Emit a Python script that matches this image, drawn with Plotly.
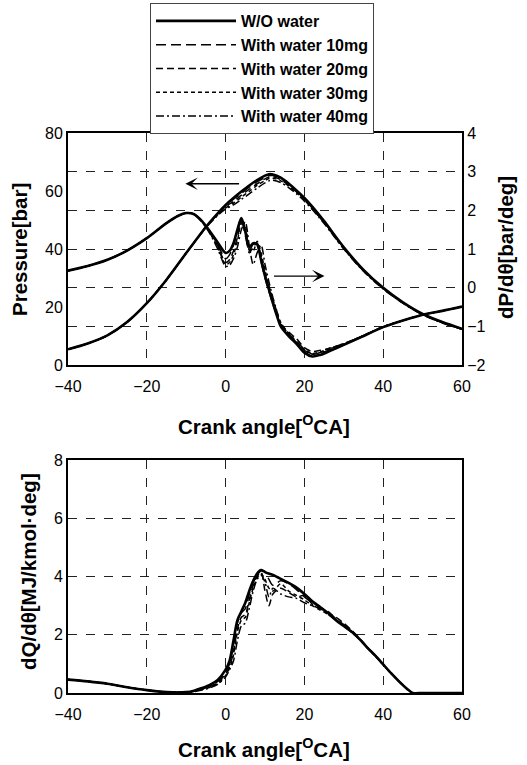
import plotly.graph_objects as go

# ---------------- data ----------------
names = ["W/O water", "With water 10mg", "With water 20mg", "With water 30mg", "With water 40mg"]

# Pressure [bar] vs crank angle
p_x = [-40, -35, -30, -25, -20, -15, -10, -5, -2, 0, 2, 4, 6, 8, 10, 11, 12, 14, 16, 18,
       20, 22, 25, 30, 35, 40, 45, 50, 55, 60]
p_wo = [5.4, 7.4, 10.2, 14.8, 21.3, 29.4, 38.6, 47.6, 52.3, 55.2, 57.6, 59.8, 61.9, 63.8, 65.3, 65.8, 65.7, 64.6, 62.6, 60.2,
        57.6, 54.6, 49.6, 40.6, 32.8, 26.6, 21.6, 17.6, 14.8, 12.5]
p_10 = [5.4, 7.4, 10.2, 14.8, 21.3, 29.4, 38.6, 47.6, 52.2, 55.0, 57.2, 59.2, 61.3, 63.2, 64.7, 65.3, 65.3, 64.3, 62.4, 60.0,
        57.4, 54.4, 49.4, 40.4, 32.6, 26.5, 21.5, 17.5, 14.7, 12.4]
p_20 = [5.4, 7.4, 10.2, 14.8, 21.3, 29.4, 38.6, 47.5, 52.0, 54.6, 56.4, 58.6, 60.6, 62.5, 64.2, 64.8, 64.9, 63.9, 62.0, 59.7,
        57.1, 54.1, 49.2, 40.3, 32.5, 26.4, 21.4, 17.4, 14.6, 12.4]
p_30 = [5.4, 7.4, 10.2, 14.8, 21.3, 29.4, 38.6, 47.4, 51.8, 54.2, 55.8, 57.9, 59.9, 61.9, 63.6, 64.3, 64.4, 63.5, 61.7, 59.4,
        56.9, 53.9, 49.0, 40.1, 32.4, 26.3, 21.4, 17.4, 14.6, 12.3]
p_40 = [5.4, 7.4, 10.2, 14.8, 21.3, 29.4, 38.6, 47.3, 51.6, 53.8, 55.2, 57.1, 59.0, 61.0, 62.8, 63.5, 63.7, 62.9, 61.2, 59.0,
        56.5, 53.6, 48.8, 40.0, 32.3, 26.2, 21.3, 17.3, 14.5, 12.3]

# dP/dtheta [bar/deg]
d_x = [-40, -35, -30, -25, -20, -15, -12, -10, -8, -6, -4, -2,
       0, 1, 2, 3, 4, 5, 6, 7, 8, 9, 10, 11, 12, 13, 14,
       16, 18, 20, 22, 24, 26,
       30, 35, 40, 45, 50, 55, 60]
d_wo = [0.44, 0.56, 0.72, 0.96, 1.28, 1.67, 1.86, 1.93, 1.9, 1.72, 1.46, 1.17,
        0.9, 0.95, 1.15, 1.5, 1.8, 1.45, 1.05, 1.15, 1.12, 0.72, 0.3, -0.05, -0.4, -0.72, -1.0,
        -1.25, -1.45, -1.68, -1.78, -1.74, -1.66,
        -1.48, -1.25, -1.02, -0.85, -0.7, -0.6, -0.49]
d_10 = [0.44, 0.56, 0.72, 0.96, 1.28, 1.67, 1.86, 1.93, 1.9, 1.72, 1.45, 1.12,
        0.75, 0.85, 1.1, 1.45, 1.75, 1.35, 0.95, 1.12, 1.1, 0.68, 0.25, -0.1, -0.42, -0.72, -0.98,
        -1.2, -1.38, -1.6, -1.72, -1.7, -1.62,
        -1.46, -1.24, -1.01, -0.85, -0.7, -0.6, -0.49]
d_20 = [0.44, 0.56, 0.72, 0.96, 1.28, 1.67, 1.86, 1.93, 1.9, 1.71, 1.43, 1.08,
        0.65, 0.72, 0.95, 1.3, 1.7, 1.5, 0.9, 1.05, 1.15, 0.8, 0.35, 0.0, -0.35, -0.68, -0.95,
        -1.15, -1.32, -1.55, -1.65, -1.62, -1.58,
        -1.45, -1.24, -1.01, -0.85, -0.7, -0.6, -0.49]
d_30 = [0.44, 0.56, 0.72, 0.96, 1.28, 1.67, 1.86, 1.93, 1.9, 1.7, 1.42, 1.05,
        0.6, 0.65, 0.85, 1.2, 1.65, 1.6, 1.0, 0.95, 1.2, 0.9, 0.45, 0.05, -0.3, -0.62, -0.9,
        -1.18, -1.4, -1.6, -1.7, -1.66, -1.58,
        -1.45, -1.24, -1.01, -0.85, -0.7, -0.6, -0.49]
d_40 = [0.44, 0.56, 0.72, 0.96, 1.28, 1.67, 1.86, 1.93, 1.9, 1.7, 1.4, 1.0,
        0.55, 0.58, 0.75, 1.05, 1.5, 1.7, 1.1, 0.6, 0.9, 1.1, 0.6, 0.15, -0.25, -0.6, -0.92,
        -1.2, -1.42, -1.62, -1.72, -1.68, -1.6,
        -1.46, -1.24, -1.01, -0.85, -0.7, -0.6, -0.49]

# dQ/dtheta [MJ/kmol.deg]
q_x = [-40, -35, -30, -25, -20, -15, -10,
       -8, -6, -4, -2, 0, 1, 2, 3, 4, 5, 6, 7, 8, 9, 10, 11, 12,
       14, 16, 18, 20, 22, 24, 26, 28, 30, 32, 34, 36, 38, 40, 42, 44, 46,
       47.5, 50, 55, 60]
q_wo = [0.46, 0.4, 0.32, 0.2, 0.1, 0.03, 0.03,
        0.08, 0.17, 0.28, 0.45, 0.8, 1.1, 1.8, 2.5, 2.8, 3.1, 3.5, 3.85, 4.1, 4.22, 4.15, 4.1, 4.05,
        3.92, 3.78, 3.62, 3.4, 3.15, 2.95, 2.75, 2.5, 2.3, 2.1, 1.85, 1.55, 1.28, 0.98, 0.68, 0.4, 0.15,
        0.0, 0.0, 0.0, 0.0]
q_10 = [0.46, 0.4, 0.32, 0.2, 0.1, 0.03, 0.03,
        0.07, 0.15, 0.25, 0.4, 0.72, 1.0, 1.6, 2.4, 2.75, 2.9, 3.4, 3.8, 4.05, 4.2, 4.18, 3.9, 3.7,
        3.85, 3.75, 3.55, 3.3, 3.1, 2.95, 2.8, 2.55, 2.35, 2.12, 1.86, 1.56, 1.28, 0.98, 0.68, 0.4, 0.15,
        0.0, 0.0, 0.0, 0.0]
q_20 = [0.46, 0.4, 0.32, 0.2, 0.1, 0.03, 0.03,
        0.06, 0.13, 0.22, 0.36, 0.65, 0.9, 1.4, 2.2, 2.6, 2.7, 3.2, 3.7, 4.0, 4.15, 3.5, 3.0, 3.4,
        3.6, 3.45, 3.3, 3.35, 3.05, 2.9, 2.75, 2.6, 2.4, 2.15, 1.88, 1.57, 1.29, 0.98, 0.68, 0.4, 0.15,
        0.0, 0.0, 0.0, 0.0]
q_30 = [0.46, 0.4, 0.32, 0.2, 0.1, 0.03, 0.03,
        0.06, 0.12, 0.2, 0.33, 0.6, 0.85, 1.3, 2.1, 2.5, 2.6, 3.1, 3.6, 3.95, 4.1, 3.9, 3.6, 3.5,
        3.75, 3.5, 3.35, 3.2, 3.0, 2.85, 2.7, 2.52, 2.32, 2.1, 1.85, 1.55, 1.27, 0.97, 0.67, 0.4, 0.15,
        0.0, 0.0, 0.0, 0.0]
q_40 = [0.46, 0.4, 0.32, 0.2, 0.1, 0.03, 0.03,
        0.05, 0.1, 0.18, 0.3, 0.55, 0.8, 1.1, 1.8, 2.3, 2.4, 2.9, 3.5, 3.9, 4.05, 3.8, 3.3, 3.6,
        3.4, 3.3, 3.25, 3.1, 3.0, 2.9, 2.7, 2.5, 2.3, 2.08, 1.84, 1.55, 1.27, 0.97, 0.67, 0.4, 0.15,
        0.0, 0.0, 0.0, 0.0]

x_ticks = [-40, -20, 0, 20, 40, 60]
p_ticks = [0, 20, 40, 60, 80]
d_ticks = [-2, -1, 0, 1, 2, 3, 4]
q_ticks = [0, 2, 4, 6, 8]

# ---------------- styles ----------------
dashes = ["solid", "10px,5px", "7px,4px", "4px,3px", "8px,3px,2px,3px"]
widths = [2.6, 1.5, 1.5, 1.5, 1.5]
FONT = "Liberation Sans, Arial, sans-serif"

pressure = [p_wo, p_10, p_20, p_30, p_40]
dpdt = [d_wo, d_10, d_20, d_30, d_40]
dqdt = [q_wo, q_10, q_20, q_30, q_40]

fig = go.Figure()
for i, nm in enumerate(names):
    line = dict(color="black", width=widths[i], dash=dashes[i], shape="spline", smoothing=0.8)
    fig.add_trace(go.Scatter(x=p_x, y=pressure[i], mode="lines", name=nm, legendgroup=nm,
                             showlegend=True, line=line, xaxis="x", yaxis="y"))
    fig.add_trace(go.Scatter(x=d_x, y=dpdt[i], mode="lines", name=nm, legendgroup=nm,
                             showlegend=False, line=line, xaxis="x", yaxis="y2"))
    fig.add_trace(go.Scatter(x=q_x, y=dqdt[i], mode="lines", name=nm, legendgroup=nm,
                             showlegend=False, line=line, xaxis="x2", yaxis="y3"))

W, H = 527, 765
xd = [68 / W, 462 / W]
top_dom = [1 - 365 / H, 1 - 133 / H]
bot_dom = [1 - 693 / H, 1 - 460 / H]

axis_common = dict(showline=True, linecolor="black", linewidth=2, mirror=True,
                   ticks="", zeroline=False, automargin=False,
                   tickfont=dict(family=FONT, size=16, color="black"))
xaxis_extra = dict(ticklabelstandoff=6)
grid = dict(showgrid=True, gridcolor="#222", gridwidth=1, griddash="dash")

fig.update_layout(
    width=W, height=H,
    margin=dict(l=0, r=0, t=0, b=0, autoexpand=False),
    paper_bgcolor="white", plot_bgcolor="white",
    font=dict(family=FONT, color="black"),
    showlegend=True,
    legend=dict(x=150 / W, y=1 - 3 / H, xanchor="left", yanchor="top",
                bordercolor="#444", borderwidth=1, bgcolor="white",
                font=dict(family=FONT, size=16, color="black", weight="bold"),
                tracegroupgap=0, itemwidth=80),
    xaxis=dict(domain=xd, anchor="y", range=[-40, 60], tickvals=x_ticks, **grid, **axis_common,
               **xaxis_extra),
    yaxis=dict(domain=top_dom, anchor="x", range=[0, 80], tickvals=p_ticks, showgrid=False,
               **axis_common),
    yaxis2=dict(overlaying="y", anchor="x", side="right", range=[-2, 4], tickvals=d_ticks,
                **grid, **axis_common),
    xaxis2=dict(domain=xd, anchor="y3", range=[-40, 60], tickvals=x_ticks, **grid, **axis_common,
                **xaxis_extra),
    yaxis3=dict(domain=bot_dom, anchor="x2", range=[0, 8], tickvals=q_ticks, **grid, **axis_common),
)

title_font = dict(family=FONT, size=20.5, color="black", weight="bold")
xt = "Crank angle[<sup>O</sup>CA]"
fig.add_annotation(text=xt, x=264 / W, y=1 - 425 / H, xref="paper", yref="paper",
                   showarrow=False, font=title_font, xanchor="center", yanchor="middle")
fig.add_annotation(text=xt, x=264 / W, y=1 - 748 / H, xref="paper", yref="paper",
                   showarrow=False, font=title_font, xanchor="center", yanchor="middle")
fig.add_annotation(text="Pressure[bar]", x=20 / W, y=1 - 250 / H, xref="paper", yref="paper",
                   showarrow=False, font=title_font, textangle=-90, xanchor="center", yanchor="middle")
fig.add_annotation(text="dP/dθ[bar/deg]", x=506 / W, y=1 - 248 / H, xref="paper", yref="paper",
                   showarrow=False, font=title_font, textangle=-90, xanchor="center", yanchor="middle")
fig.add_annotation(text="dQ/dθ[MJ/kmol·deg]", x=28 / W, y=1 - 572 / H, xref="paper", yref="paper",
                   showarrow=False, font=title_font, textangle=-90, xanchor="center", yanchor="middle")

# direction arrows
fig.add_annotation(x=-10.2, y=62.5, ax=3.8, ay=62.5, xref="x", yref="y", axref="x", ayref="y",
                   text="", showarrow=True, arrowhead=3, arrowsize=1.6, arrowwidth=1.3, arrowcolor="black")
fig.add_annotation(x=25.1, y=0.3, ax=11.9, ay=0.3, xref="x", yref="y2", axref="x", ayref="y2",
                   text="", showarrow=True, arrowhead=3, arrowsize=1.6, arrowwidth=1.3, arrowcolor="black")

fig.write_html("out.html", config={"displayModeBar": False},
               post_script="document.body.style.margin='0px';document.body.style.padding='0px';")
